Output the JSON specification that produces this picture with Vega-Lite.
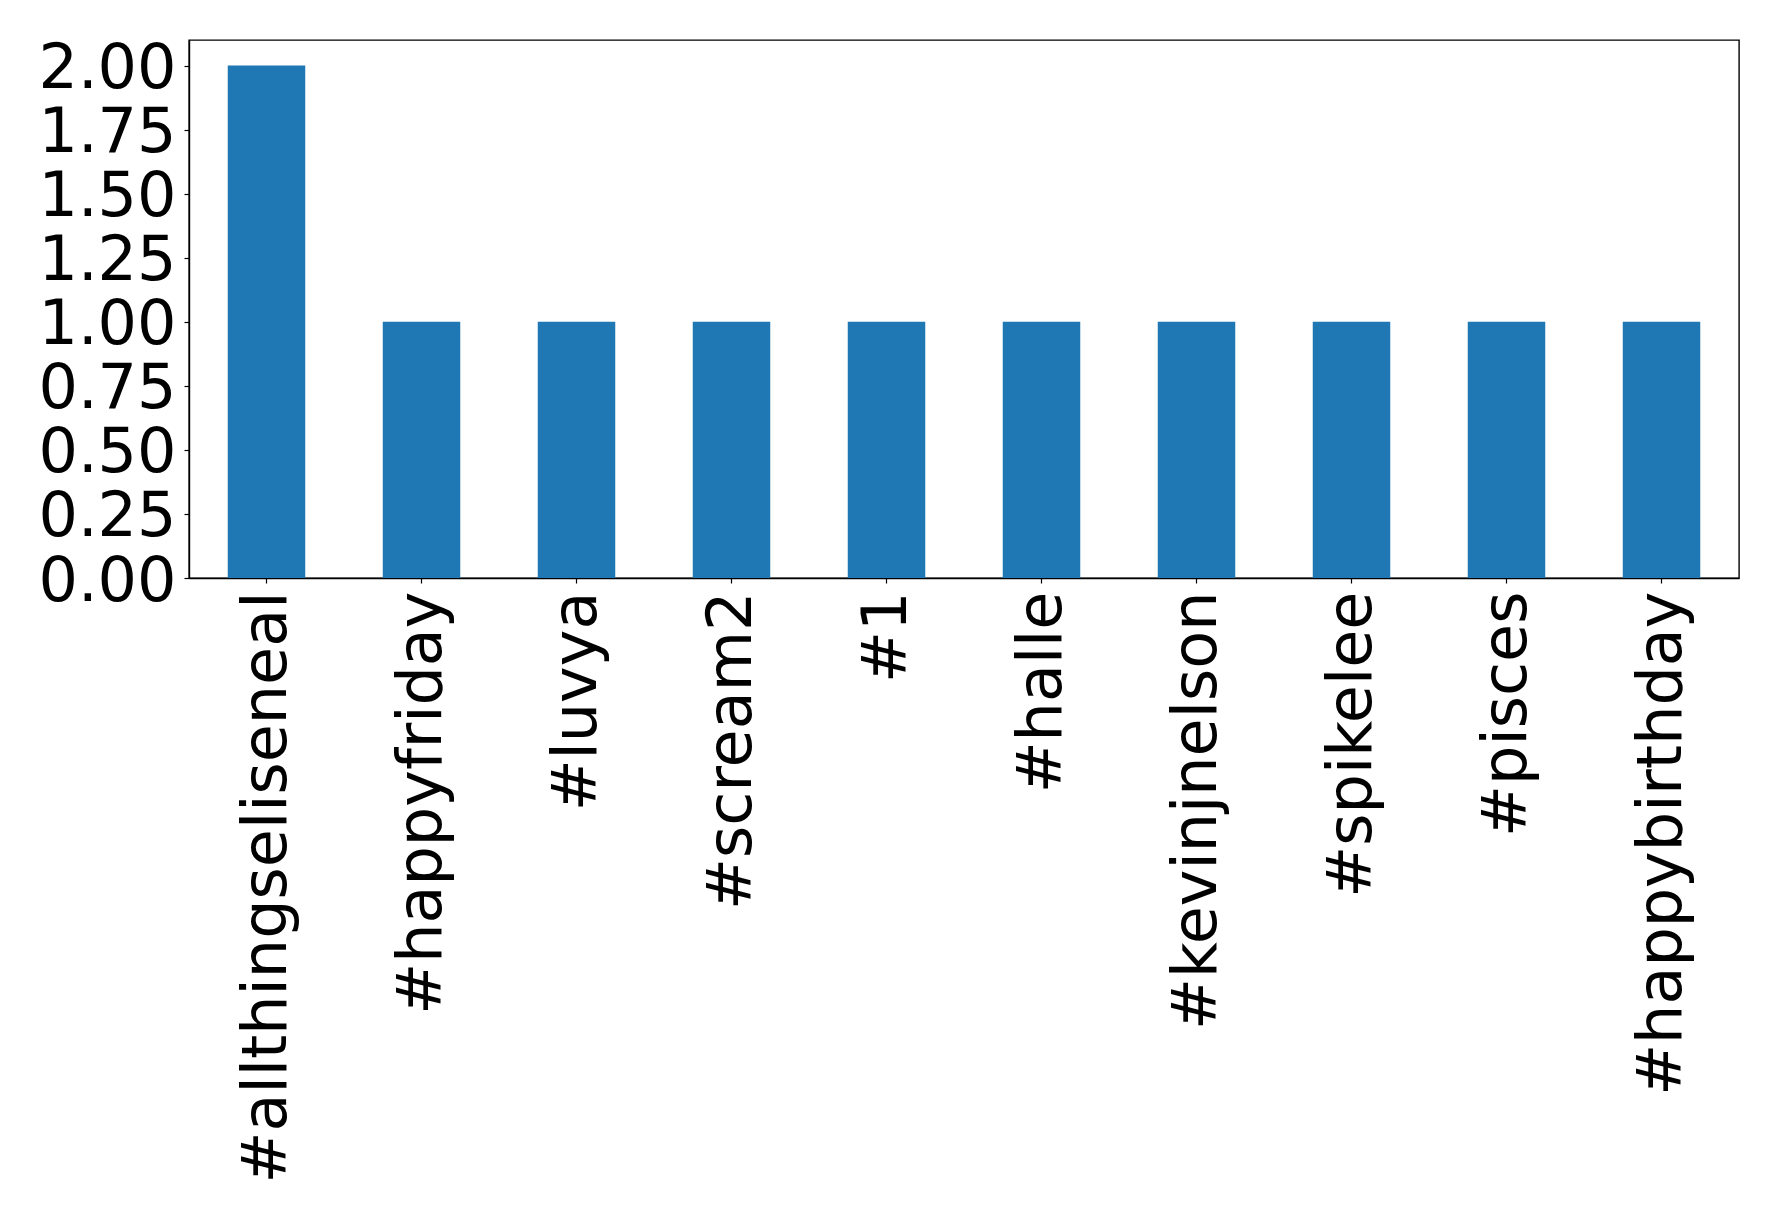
{
  "$schema": "https://vega.github.io/schema/vega-lite/v6.json",
  "autosize": "none",
  "width": 1550,
  "height": 538,
  "padding": {"left": 189, "top": 40, "right": 39, "bottom": 646},
  "background": "white",
  "config": {
    "view": {"stroke": "black", "strokeWidth": 1.4},
    "font": "DejaVu Sans"
  },
  "data": {
    "values": [
      {"hashtag": "#allthingseliseneal", "count": 2},
      {"hashtag": "#happyfriday", "count": 1},
      {"hashtag": "#luvya", "count": 1},
      {"hashtag": "#scream2", "count": 1},
      {"hashtag": "#1", "count": 1},
      {"hashtag": "#halle", "count": 1},
      {"hashtag": "#kevinjnelson", "count": 1},
      {"hashtag": "#spikelee", "count": 1},
      {"hashtag": "#pisces", "count": 1},
      {"hashtag": "#happybirthday", "count": 1}
    ]
  },
  "mark": {"type": "bar", "color": "#1f77b4"},
  "encoding": {
    "x": {
      "field": "hashtag",
      "type": "nominal",
      "sort": null,
      "scale": {"paddingInner": 0.5, "paddingOuter": 0.25},
      "axis": {
        "title": null,
        "labelAngle": -90,
        "labelAlign": "right",
        "labelBaseline": "middle",
        "labelFont": "DejaVu Sans",
        "labelFontSize": 62,
        "labelColor": "black",
        "labelPadding": 8,
        "labelLimit": 0,
        "tickColor": "black",
        "tickSize": 5,
        "tickWidth": 1.2,
        "domainColor": "black",
        "domainWidth": 1.4
      }
    },
    "y": {
      "field": "count",
      "type": "quantitative",
      "scale": {"domain": [0, 2.1], "nice": false},
      "axis": {
        "title": null,
        "values": [0, 0.25, 0.5, 0.75, 1, 1.25, 1.5, 1.75, 2],
        "format": ".2f",
        "grid": false,
        "labelFont": "DejaVu Sans",
        "labelFontSize": 62,
        "labelColor": "black",
        "labelPadding": 8,
        "labelBaseline": "middle",
        "labelOffset": 3,
        "labelFlush": false,
        "labelOverlap": false,
        "tickColor": "black",
        "tickSize": 5,
        "tickWidth": 1.2,
        "domainColor": "black",
        "domainWidth": 1.4
      }
    }
  }
}
